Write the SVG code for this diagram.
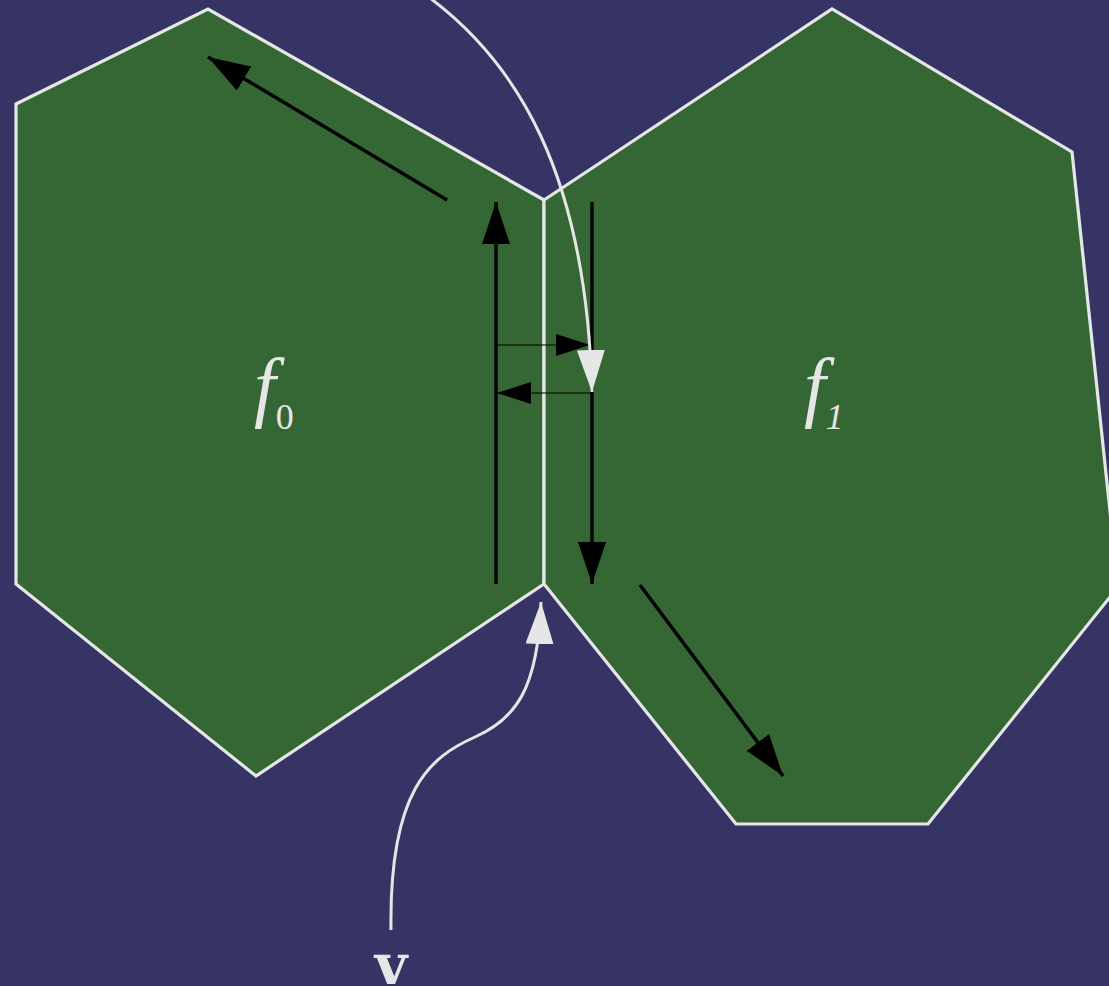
<svg xmlns="http://www.w3.org/2000/svg" width="1109" height="986" viewBox="0 0 1109 986">
<defs>
<style>
.face{fill:#356734;stroke:#e6e6e6;stroke-width:3.2;stroke-linejoin:miter}
.blk{stroke:#000;stroke-width:3.5;fill:none}
.thin{stroke:#000;stroke-width:1.2;fill:none}
.wht{stroke:#e6e6e6;stroke-width:3;fill:none}
.lbl{fill:#e6e6e6;font-family:"Liberation Serif",serif;font-style:italic}
</style>
<marker id="ab" viewBox="0 0 42 28" refX="42" refY="14" markerWidth="42" markerHeight="28" markerUnits="userSpaceOnUse" orient="auto"><path d="M0,0 L42,14 L0,28 Z" fill="#000"/></marker>
<marker id="abs" viewBox="0 0 34 22" refX="34" refY="11" markerWidth="34" markerHeight="22" markerUnits="userSpaceOnUse" orient="auto"><path d="M0,0 L34,11 L0,22 Z" fill="#000"/></marker>
<marker id="aw" viewBox="0 0 42 28" refX="42" refY="14" markerWidth="42" markerHeight="28" markerUnits="userSpaceOnUse" orient="auto"><path d="M0,0 L42,14 L0,28 Z" fill="#e6e6e6"/></marker>
</defs>
<rect width="1109" height="986" fill="#353465"/>
<g id="f0">
<polygon class="face" points="16,104 208,9 544,200 544,584 256,776 16,584"/>
<text class="lbl" x="254" y="412" font-size="78">f<tspan font-style="normal" font-size="36" dy="17">0</tspan></text>
</g>
<g id="f1">
<polygon class="face" points="544,200 832,9 1072,152 1118,587 928,824 736,824 544,584"/>
<text class="lbl" x="804" y="412" font-size="78">f<tspan font-size="36" dy="17">1</tspan></text>
</g>
<g id="v">
<text x="391" y="984" font-family="DejaVu Serif,serif" font-weight="bold" font-size="56" fill="#e6e6e6" text-anchor="middle">v</text>
</g>
<g id="connectors">
<line class="blk" x1="447" y1="200" x2="208" y2="57" marker-end="url(#ab)"/>
<line class="blk" x1="496" y1="584" x2="496" y2="202" marker-end="url(#ab)"/>
<line class="blk" x1="592" y1="202" x2="592" y2="584" marker-end="url(#ab)"/>
<line class="blk" x1="640" y1="585" x2="783" y2="776" marker-end="url(#ab)"/>
<line class="thin" x1="496" y1="345" x2="590" y2="345" marker-end="url(#abs)"/>
<line class="thin" x1="592" y1="393" x2="497" y2="393" marker-end="url(#abs)"/>
<path class="wht" d="M430,-2 C515,62 586,170 592,392" marker-end="url(#aw)"/>
<path class="wht" d="M391,930 C389,790 430,757 475,737 C515,719 538,690 541,602" marker-end="url(#aw)"/>
</g>
</svg>
